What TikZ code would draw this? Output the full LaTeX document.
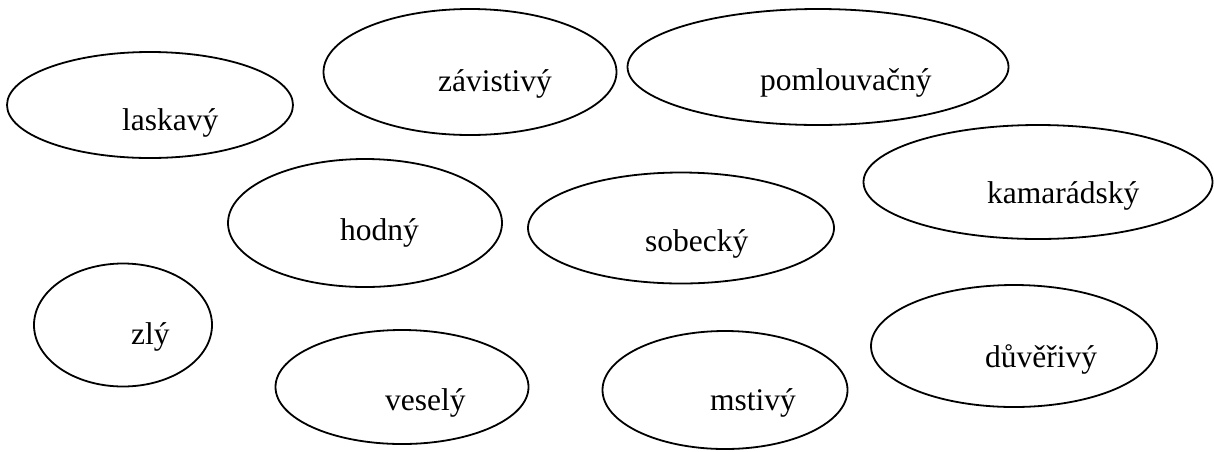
\documentclass[tikz,border=0pt]{standalone}
\usepackage{fontspec}
\setmainfont{Liberation Serif}
\usetikzlibrary{shapes.geometric}
\begin{document}
\begin{tikzpicture}[x=1pt,y=-1pt,
  oval/.style={ellipse,draw,line width=1.8pt,inner sep=0pt},
  word/.style={anchor=base west,inner sep=0pt,font=\fontsize{31.5}{37}\selectfont}]
\useasboundingbox (0,0) rectangle (1214,451);
\node[oval,minimum width=286pt,minimum height=106pt] (e1) at (150,105) {};
\node[oval,minimum width=293pt,minimum height=126pt] (e2) at (470,72) {};
\node[oval,minimum width=381pt,minimum height=116pt] (e3) at (818,67) {};
\node[oval,minimum width=349pt,minimum height=114pt] (e4) at (1038,182) {};
\node[oval,minimum width=274pt,minimum height=128pt] (e5) at (365,223) {};
\node[oval,minimum width=306pt,minimum height=111pt] (e6) at (681,228) {};
\node[oval,minimum width=178pt,minimum height=123pt] (e7) at (123,325) {};
\node[oval,minimum width=253pt,minimum height=114pt] (e8) at (402,387) {};
\node[oval,minimum width=245pt,minimum height=118pt] (e9) at (725,390) {};
\node[oval,minimum width=286pt,minimum height=122pt] (e10) at (1014,346) {};
\node[word] (t1) at (122,130) {laskavý};
\node[word] (t2) at (438,91) {závistivý};
\node[word] (t3) at (760,90) {pomlouvačný};
\node[word] (t4) at (987,203) {kamarádský};
\node[word] (t5) at (340,240) {hodný};
\node[word] (t6) at (645,251) {sobecký};
\node[word] (t7) at (131,344) {zlý};
\node[word] (t8) at (385,410) {veselý};
\node[word] (t9) at (710,410) {mstivý};
\node[word] (t10) at (985,367) {důvěřivý};
\end{tikzpicture}
\end{document}
